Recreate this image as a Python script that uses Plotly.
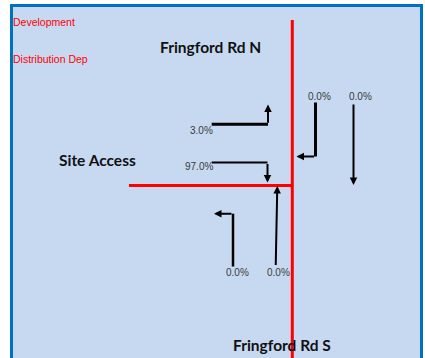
import plotly.graph_objects as go

# ---- data ----
header_lines = ["Development", "Distribution Dep"]
road_names = ["Fringford Rd N", "Site Access", "Fringford Rd S"]
movement_pct = [3.0, 97.0, 0.0, 0.0, 0.0, 0.0]
movement_labels = [f"{v:.1f}%" for v in movement_pct]

# ---- layout geometry (diagram positions, in pixel-like axis units) ----
W, H = 425, 358
frame = dict(x0=11.5, y0=5.5, x1=421.5, y1=370)
road_lines = [((292.3, 20), (292.3, 370)), ((129, 185.5), (292.3, 185.5))]
# each movement: polyline points; last segment ends in an arrow head
movement_paths = [
    [(211.7, 124.3), (268.0, 124.3), (268.0, 104.5)],
    [(211.7, 162.5), (267.5, 162.5), (267.5, 182.5)],
    [(315.5, 102.5), (315.5, 156.5), (296.5, 156.5)],
    [(353.5, 103.0), (353.5, 185.0)],
    [(233.0, 266.5), (233.0, 213.7), (214.0, 213.7)],
    [(275.7, 266.5), (277.3, 186.0)],
]
movement_widths = [3, 2, 3, 2, 2.5, 2]
label_pos = [(215, 130.5, "right"), (215, 166.5, "right"),
             (319, 96.5, "center"), (360, 96.5, "center"),
             (237, 272.5, "center"), (278, 272.5, "center")]
road_pos = [(210, 47), (97, 160), (281.5, 345)]
header_pos = [(11, 22), (11, 59)]

fig = go.Figure()
fig.add_trace(go.Scatter(x=[0, W], y=[0, H], mode="markers",
                         marker=dict(opacity=0), hoverinfo="skip", showlegend=False))

shapes = [dict(type="rect", xref="x", yref="y", **frame,
               fillcolor="#C6D9F1", line=dict(color="#0070C0", width=3), layer="below")]
for (a, b) in road_lines:
    shapes.append(dict(type="line", xref="x", yref="y", x0=a[0], y0=a[1], x1=b[0], y1=b[1],
                       line=dict(color="#FF0000", width=3)))

annotations = []
for path, w in zip(movement_paths, movement_widths):
    for p, q in zip(path[:-2], path[1:-1]):
        shapes.append(dict(type="line", xref="x", yref="y", x0=p[0], y0=p[1], x1=q[0], y1=q[1],
                           line=dict(color="#000000", width=w)))
    s, t = path[-2], path[-1]
    annotations.append(dict(x=t[0], y=t[1], ax=s[0], ay=s[1], xref="x", yref="y",
                            axref="x", ayref="y", text="", showarrow=True,
                            arrowhead=2, arrowsize=0.75, arrowwidth=2,
                            arrowcolor="#000000", standoff=0, startstandoff=0))

for lbl, (x, y, al) in zip(movement_labels, label_pos):
    annotations.append(dict(x=x, y=y, xref="x", yref="y", text=lbl, showarrow=False,
                            xanchor=al, yanchor="middle",
                            font=dict(family="Liberation Sans, Arial", size=10, color="#3a3a3a")))

for name, (x, y) in zip(road_names, road_pos):
    annotations.append(dict(x=x, y=y, xref="x", yref="y", text=f"<b>{name}</b>", showarrow=False,
                            xanchor="center", yanchor="middle",
                            font=dict(family="Lato, Carlito, sans-serif", size=15.5, color="#111111")))

for line, (x, y) in zip(header_lines, header_pos):
    annotations.append(dict(x=x, y=y, xref="x", yref="y", text=line, showarrow=False,
                            xanchor="left", yanchor="middle",
                            font=dict(family="Liberation Sans, Arial", size=10.5, color="#FF0000")))

fig.update_layout(
    width=W, height=H, margin=dict(l=0, r=0, t=0, b=0),
    paper_bgcolor="white", plot_bgcolor="white",
    xaxis=dict(range=[0, W], visible=False, fixedrange=True),
    yaxis=dict(range=[H, 0], visible=False, fixedrange=True),
    shapes=shapes, annotations=annotations, showlegend=False,
)
fig.write_html("out.html", config={"displayModeBar": False},
               post_script="document.body.style.margin='0';document.body.style.overflow='hidden';")
